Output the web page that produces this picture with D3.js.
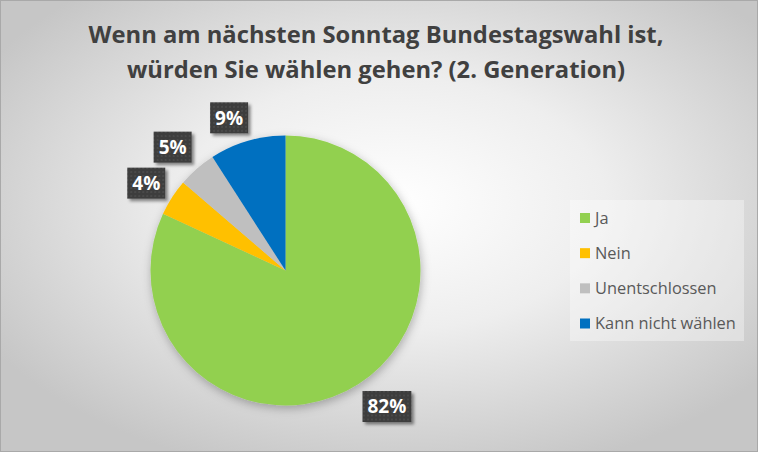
<!DOCTYPE html>
<html>
<head>
<meta charset="utf-8">
<script src="https://cdn.jsdelivr.net/npm/d3@7"></script>
<style>
  body { margin: 0; }
  svg { display: block; font-family: "Open Sans", sans-serif; }
</style>
</head>
<body>
<svg id="chart" width="758" height="452"></svg>
<script>
const categories = ["Ja", "Nein", "Unentschlossen", "Kann nicht wählen"];
const values = [81.9, 4.4, 4.6, 9.1];
const colors = ["#92D050", "#FFC000", "#BFBFBF", "#0070C0"];
const titleLines = ["Wenn am nächsten Sonntag Bundestagswahl ist,", "würden Sie wählen gehen? (2. Generation)"];

const svg = d3.select("#chart");
const width = +svg.attr("width");
const height = +svg.attr("height");
const cx = 285.5, cy = 270.5, r = 135;

const defs = svg.append("defs");
const bg = defs.append("radialGradient").attr("id", "bg")
  .attr("cx", "52%").attr("cy", "45%").attr("r", "62%");
bg.append("stop").attr("offset", "0%").attr("stop-color", "#ffffff");
bg.append("stop").attr("offset", "45%").attr("stop-color", "#eeeeee");
bg.append("stop").attr("offset", "100%").attr("stop-color", "#c6c6c6");

const dots = defs.append("pattern").attr("id", "dots")
  .attr("width", 4).attr("height", 4).attr("patternUnits", "userSpaceOnUse");
dots.append("rect").attr("width", 4).attr("height", 4).attr("fill", "#3c3c3c");
dots.append("rect").attr("width", 2).attr("height", 2).attr("fill", "#4a4a4a");

defs.append("filter").attr("id", "pieShadow").attr("x", "-20%").attr("y", "-20%").attr("width", "140%").attr("height", "140%")
  .append("feDropShadow").attr("dx", 1).attr("dy", 3).attr("stdDeviation", 5)
  .attr("flood-color", "#000").attr("flood-opacity", 0.28);
defs.append("filter").attr("id", "boxShadow").attr("x", "-30%").attr("y", "-30%").attr("width", "160%").attr("height", "160%")
  .append("feDropShadow").attr("dx", 2.5).attr("dy", 2.5).attr("stdDeviation", 1.5)
  .attr("flood-color", "#000").attr("flood-opacity", 0.45);

svg.append("rect").attr("width", width).attr("height", height).attr("fill", "url(#bg)");
svg.append("rect").attr("x", 0.5).attr("y", 0.5).attr("width", width - 1).attr("height", height - 1)
  .attr("fill", "none").attr("stroke", "#a9a9a9");

// title, sized to fit the reference width
const title = svg.append("text").attr("text-anchor", "middle")
  .attr("font-weight", "bold").attr("fill", "#404040").attr("font-size", 100);
titleLines.forEach((t, i) => {
  title.append("tspan").attr("x", 376).attr("y", 43 + i * 35.3).text(t);
});
const w0 = title.select("tspan").node().getComputedTextLength();
title.attr("font-size", 100 * 575 / w0);

const color = d3.scaleOrdinal().domain(categories).range(colors);
const pie = d3.pie().sort(null).value(d => d.value);
const data = categories.map((c, i) => ({ name: c, value: values[i] }));
const arcs = pie(data);
const arc = d3.arc().innerRadius(0).outerRadius(r);

const pieG = svg.append("g").attr("transform", `translate(${cx},${cy})`);
pieG.append("g").attr("filter", "url(#pieShadow)")
  .selectAll("path").data(arcs).join("path")
  .attr("d", arc)
  .attr("fill", d => color(d.data.name));

// data labels (outside end)
const labelSize = 19;
const labels = arcs.map(a => {
  const t = Math.round(a.data.value) + "%";
  const tmp = svg.append("text").attr("font-weight", "bold").attr("font-size", labelSize).text(t);
  const tw = tmp.node().getComputedTextLength();
  tmp.remove();
  const w = tw + 10, h = 31;
  const ang = (a.startAngle + a.endAngle) / 2;
  const px = (r + 8) * Math.sin(ang), py = -(r + 8) * Math.cos(ang);
  const clamp = v => Math.max(-1, Math.min(1, v));
  return {
    text: t, w, h,
    x: px + clamp(3 * Math.sin(ang)) * w / 2,
    y: py + clamp(-3 * Math.cos(ang)) * h / 2
  };
});
// push overlapping labels down
const placed = [];
for (let i = labels.length - 1; i >= 0; i--) {
  const l = labels[i];
  placed.forEach(o => {
    if (Math.abs(l.x - o.x) < (l.w + o.w) / 2 && Math.abs(l.y - o.y) < (l.h + o.h) / 2 + 5) {
      l.y = o.y + o.h / 2 + 5 + l.h / 2;
    }
  });
  placed.push(l);
}

const lab = pieG.selectAll("g.lab").data(labels).join("g").attr("class", "lab")
  .attr("transform", d => `translate(${d.x},${d.y})`);
lab.append("rect")
  .attr("x", d => -d.w / 2).attr("y", d => -d.h / 2)
  .attr("width", d => d.w).attr("height", d => d.h)
  .attr("fill", "url(#dots)").attr("filter", "url(#boxShadow)");
lab.append("text").attr("text-anchor", "middle").attr("dy", "0.36em")
  .attr("font-weight", "bold").attr("font-size", labelSize).attr("fill", "#ffffff")
  .text(d => d.text);

// legend
const lx = 570, ly = 200, lw = 174, lh = 141;
const legend = svg.append("g");
legend.append("rect").attr("x", lx).attr("y", ly).attr("width", lw).attr("height", lh)
  .attr("fill", "#ffffff").attr("fill-opacity", 0.35);
const ly0 = d3.scalePoint().domain(categories).range([218, 323.5]);
const items = legend.selectAll("g.item").data(categories).join("g").attr("class", "item")
  .attr("transform", d => `translate(580,${ly0(d)})`);
items.append("rect").attr("y", -5).attr("width", 10).attr("height", 10).attr("fill", d => color(d));
const ltext = items.append("text").attr("x", 15).attr("dy", "0.36em")
  .attr("fill", "#595959").attr("font-size", 100).text(d => d);
const lw0 = ltext.filter(d => d === "Kann nicht wählen").node().getComputedTextLength();
ltext.attr("font-size", 100 * 141 / lw0);
</script>
</body>
</html>
